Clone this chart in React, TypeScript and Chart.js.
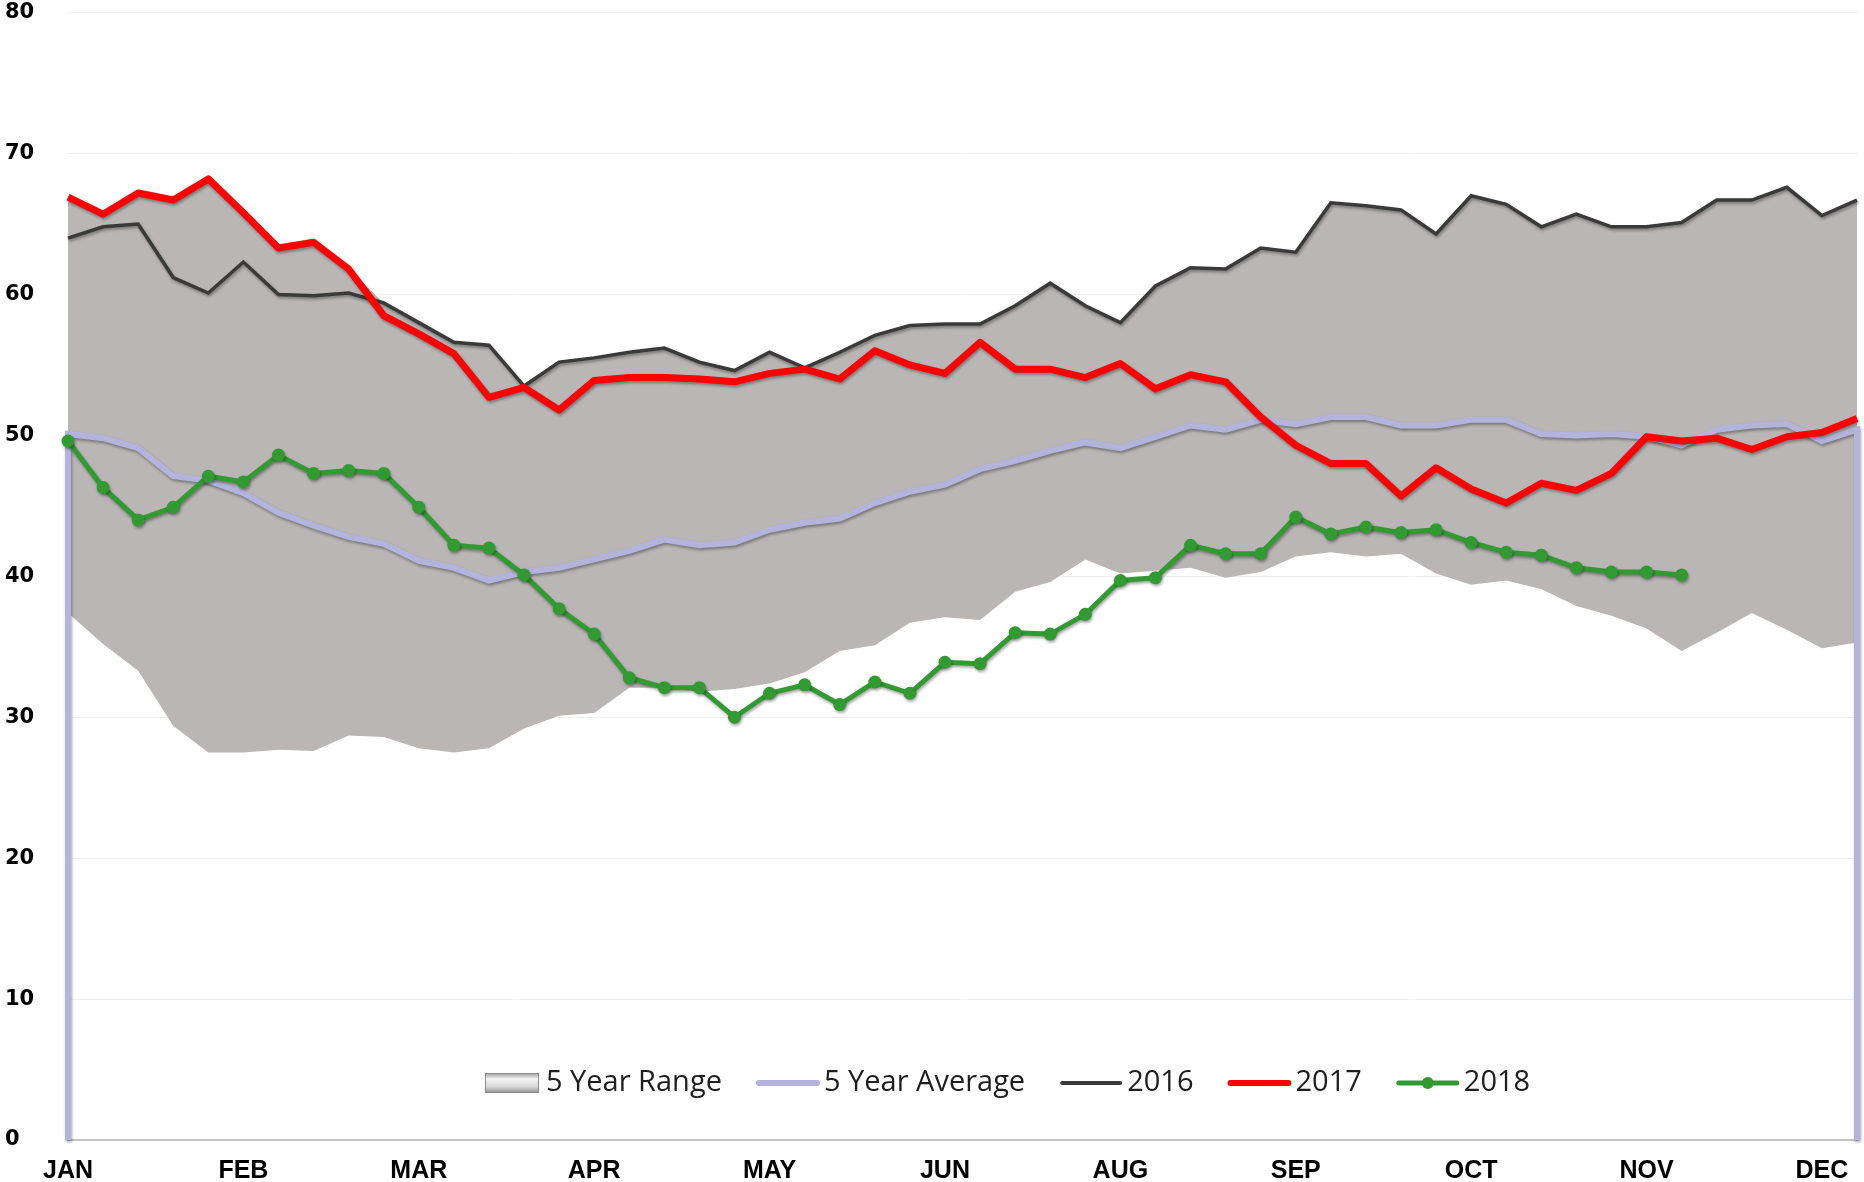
import React, { useEffect, useRef } from "react";
import { Chart, registerables } from "chart.js";

Chart.register(...registerables);

// Tick labels shown every 5th week (week index 0,5,...,50)
const monthLabels = ["JAN", "FEB", "MAR", "APR", "MAY", "JUN", "AUG", "SEP", "OCT", "NOV", "DEC"];
const weekCount = 52;

const rangeLow = [
  37.4, 35.2, 33.3, 29.4, 27.5, 27.5, 27.7, 27.6, 28.7, 28.6, 27.8, 27.5, 27.8,
  29.2, 30.1, 30.3, 32.1, 32.1, 31.8, 32.0, 32.4, 33.2, 34.7, 35.1, 36.7, 37.1,
  36.9, 38.9, 39.6, 41.2, 40.2, 40.4, 40.6, 39.9, 40.3, 41.4, 41.7, 41.4,
  41.6, 40.2, 39.4, 39.7, 39.1, 37.9, 37.2, 36.3, 34.7, 36.0, 37.4, 36.2, 34.9, 35.3,
];

const rangeHigh = [
  66.9, 65.7, 67.2, 66.7, 68.2, 65.8, 63.3, 63.7, 61.8, 59.4, 58.0, 56.6, 56.4,
  53.5, 55.2, 55.5, 55.9, 56.2, 55.2, 54.6, 55.9, 54.8, 55.9, 57.1, 57.8, 57.9,
  57.9, 59.2, 60.8, 59.2, 58.0, 60.6, 61.9, 61.8, 63.3, 63.0, 66.5, 66.3, 66.0,
  64.3, 67.0, 66.4, 64.8, 65.7, 64.8, 64.8, 65.1, 66.7, 66.7, 67.6, 65.6, 66.7,
];

const avg5 = [
  50.1, 49.8, 49.1, 47.1, 46.8, 45.9, 44.5, 43.6, 42.8, 42.3, 41.1, 40.6, 39.7,
  40.3, 40.6, 41.2, 41.8, 42.6, 42.2, 42.4, 43.3, 43.8, 44.1, 45.2, 46.0, 46.5,
  47.6, 48.2, 48.9, 49.5, 49.1, 49.9, 50.7, 50.4, 51.1, 50.8, 51.3, 51.3, 50.7,
  50.7, 51.1, 51.1, 50.1, 50.0, 50.1, 49.9, 49.3, 50.4, 50.7, 50.8, 49.6, 50.4,
];

const y2016 = [
  64.0, 64.8, 65.0, 61.2, 60.1, 62.3, 60.0, 59.9, 60.1, 59.4, 58.0, 56.6, 56.4,
  53.5, 55.2, 55.5, 55.9, 56.2, 55.2, 54.6, 55.9, 54.8, 55.9, 57.1, 57.8, 57.9,
  57.9, 59.2, 60.8, 59.2, 58.0, 60.6, 61.9, 61.8, 63.3, 63.0, 66.5, 66.3, 66.0,
  64.3, 67.0, 66.4, 64.8, 65.7, 64.8, 64.8, 65.1, 66.7, 66.7, 67.6, 65.6, 66.7,
];

const y2017 = [
  66.9, 65.7, 67.2, 66.7, 68.2, 65.8, 63.3, 63.7, 61.8, 58.5, 57.2, 55.8, 52.7,
  53.4, 51.8, 53.9, 54.1, 54.1, 54.0, 53.8, 54.4, 54.7, 54.0, 56.0, 55.0, 54.4,
  56.6, 54.7, 54.7, 54.1, 55.1, 53.3, 54.3, 53.8, 51.3, 49.3, 48.0, 48.0, 45.7,
  47.7, 46.2, 45.2, 46.6, 46.1, 47.3, 49.9, 49.6, 49.8, 49.0, 49.9, 50.2, 51.2,
];

const y2018 = [
  49.6, 46.3, 44.0, 44.9, 47.1, 46.7, 48.6, 47.3, 47.5, 47.3, 44.9, 42.2, 42.0,
  40.1, 37.7, 35.9, 32.8, 32.1, 32.1, 30.0, 31.7, 32.3, 30.9, 32.5, 31.7, 33.9,
  33.8, 36.0, 35.9, 37.3, 39.7, 39.9, 42.2, 41.6, 41.6, 44.2, 43.0, 43.5,
  43.1, 43.3, 42.4, 41.7, 41.5, 40.6, 40.3, 40.3, 40.1,
];

const RANGE_COLOR = "#b9b6b5";
const AVG_COLOR = "#b3b3dc";
const C2016 = "#3a3a3a";
const C2017 = "#ff0000";
const C2018 = "#339933";

const toXY = (arr: number[]) => arr.map((y, i) => ({ x: i, y }));

const shadowPlugin = {
  id: "lineShadow",
  beforeDatasetDraw(chart: any, args: any) {
    const ds = chart.data.datasets[args.index];
    if (!ds.shadow) return;
    const ctx = chart.ctx;
    ctx.save();
    ctx.shadowColor = "rgba(0,0,0,0.35)";
    ctx.shadowBlur = 3;
    ctx.shadowOffsetX = 1;
    ctx.shadowOffsetY = 2;
  },
  afterDatasetDraw(chart: any, args: any) {
    const ds = chart.data.datasets[args.index];
    if (!ds.shadow) return;
    chart.ctx.restore();
  },
};

const legendItems = [
  { label: "5 Year Range", kind: "box", color: RANGE_COLOR, width: 0 },
  { label: "5 Year Average", kind: "line", color: AVG_COLOR, width: 6 },
  { label: "2016", kind: "line", color: C2016, width: 4 },
  { label: "2017", kind: "line", color: C2017, width: 6 },
  { label: "2018", kind: "point", color: C2018, width: 5 },
];

const legendPlugin = {
  id: "insideLegend",
  afterDraw(chart: any) {
    const ctx = chart.ctx;
    const area = chart.chartArea;
    ctx.save();
    ctx.font = '29px "Open Sans"';
    ctx.textBaseline = "middle";
    ctx.textAlign = "left";
    let x = area.left + 417;
    const y = area.bottom - 57;
    legendItems.forEach((it) => {
      const mw = it.kind === "box" ? 54 : 58;
      if (it.kind === "box") {
        const g = ctx.createLinearGradient(0, y - 10, 0, y + 10);
        g.addColorStop(0, "#9a9a9a");
        g.addColorStop(0.3, "#f6f6f6");
        g.addColorStop(0.7, "#d6d6d6");
        g.addColorStop(1, "#8a8a8a");
        ctx.fillStyle = g;
        ctx.fillRect(x, y - 10, mw, 20);
        ctx.strokeStyle = "#8c8c8c";
        ctx.lineWidth = 1;
        ctx.strokeRect(x + 0.5, y - 9.5, mw - 1, 19);
      } else {
        ctx.strokeStyle = it.color;
        ctx.lineWidth = it.width;
        ctx.lineCap = "round";
        ctx.beginPath();
        ctx.moveTo(x, y);
        ctx.lineTo(x + mw, y);
        ctx.stroke();
        if (it.kind === "point") {
          ctx.fillStyle = it.color;
          ctx.beginPath();
          ctx.arc(x + mw / 2, y, 6, 0, Math.PI * 2);
          ctx.fill();
        }
      }
      x += mw + 7;
      ctx.fillStyle = "#1e1e1e";
      ctx.fillText(it.label, x, y);
      x += ctx.measureText(it.label).width + 37;
    });
    ctx.restore();
  },
};

export default function App() {
  const ref = useRef<HTMLCanvasElement | null>(null);

  useEffect(() => {
    document.body.style.margin = "0";
    const canvas = ref.current;
    if (!canvas) return;

    const avgWithDrops = [{ x: 0, y: 0 }, ...toXY(avg5), { x: weekCount - 1, y: 0 }];

    const chart = new Chart(canvas, {
      type: "line",
      data: {
        datasets: [
          {
            label: "2018",
            data: toXY(y2018),
            borderColor: C2018,
            backgroundColor: C2018,
            borderWidth: 5,
            pointRadius: 6.5,
            pointBackgroundColor: C2018,
            pointBorderWidth: 0,
            tension: 0,
            clip: false,
            shadow: true,
          } as any,
          {
            label: "2017",
            data: toXY(y2017),
            borderColor: C2017,
            borderWidth: 7,
            pointRadius: 0,
            tension: 0,
            clip: false,
            shadow: true,
            borderJoinStyle: "round",
          } as any,
          {
            label: "2016",
            data: toXY(y2016),
            borderColor: C2016,
            borderWidth: 3.5,
            pointRadius: 0,
            tension: 0,
            clip: false,
            shadow: true,
          } as any,
          {
            label: "5 Year Average",
            data: avgWithDrops,
            borderColor: AVG_COLOR,
            borderWidth: 6,
            pointRadius: 0,
            tension: 0,
            clip: false,
            shadow: true,
          } as any,
          {
            label: "5 Year Range",
            data: toXY(rangeHigh),
            borderWidth: 0,
            borderColor: "rgba(0,0,0,0)",
            backgroundColor: RANGE_COLOR,
            pointRadius: 0,
            tension: 0,
            fill: "+1",
          } as any,
          {
            label: "range low",
            data: toXY(rangeLow),
            borderWidth: 0,
            borderColor: "rgba(0,0,0,0)",
            pointRadius: 0,
            tension: 0,
            fill: false,
          } as any,
        ],
      },
      options: {
        animation: false,
        responsive: false,
        events: [],
        layout: { padding: { left: 5, right: 7, top: 0, bottom: 0 } },
        plugins: {
          legend: { display: false },
          tooltip: { enabled: false },
        },
        scales: {
          x: {
            type: "linear",
            min: 0,
            max: weekCount - 1,
            grid: { display: false, drawTicks: false },
            border: { display: true, color: "#c4c4c4", width: 2 },
            afterFit: (scale: any) => {
              scale.height = 42;
            },
            ticks: {
              stepSize: 5,
              includeBounds: false,
              autoSkip: false,
              maxRotation: 0,
              padding: 6,
              color: "#000",
              font: { family: '"Liberation Sans", Arial, sans-serif', size: 25, weight: "bold", lineHeight: 2 },
              callback: (v: any) => {
                const k = Number(v) / 5;
                return Number.isInteger(k) && monthLabels[k] ? monthLabels[k] : "";
              },
            },
          },
          y: {
            min: 0,
            max: 80,
            grid: { color: "#f0f0f0", lineWidth: 1, drawTicks: false },
            border: { display: false },
            afterFit: (scale: any) => {
              scale.width = 63;
            },
            ticks: {
              stepSize: 10,
              crossAlign: "far",
              padding: 0,
              color: "#000",
              font: { family: '"DejaVu Sans", sans-serif', size: 21, weight: "bold", lineHeight: 1.2 },
            },
          },
        },
      },
      plugins: [shadowPlugin, legendPlugin],
    } as any);

    return () => chart.destroy();
  }, []);

  return <canvas ref={ref} width={1864} height={1182} style={{ display: "block" }} />;
}
